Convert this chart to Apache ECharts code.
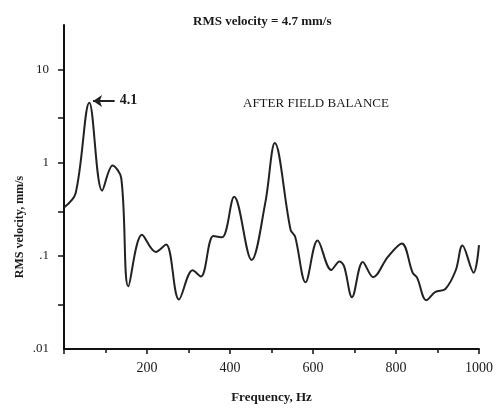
<!DOCTYPE html>
<html>
<head>
<meta charset="utf-8">
<script src="https://cdn.jsdelivr.net/npm/echarts@6/dist/echarts.min.js"></script>
<style>html,body{margin:0;padding:0;background:#fff}#c{width:496px;height:409px}</style>
</head>
<body>
<div id="c"></div>
<script>
// Frequency (Hz) and RMS velocity (mm/s)
var freqHz = [0, 28, 61, 92, 117, 138, 155, 188, 221, 246, 277, 310, 330, 360, 381, 410, 452, 485, 508, 546, 557, 582, 611, 644, 664, 675, 694, 720, 745, 780, 814, 840, 851, 873, 895, 919, 944, 960, 987, 1000];
var velocity = [0.33, 0.47, 4.4, 0.50, 0.93, 0.68, 0.047, 0.168, 0.11, 0.132, 0.034, 0.070, 0.060, 0.163, 0.158, 0.43, 0.09, 0.37, 1.62, 0.19, 0.16, 0.052, 0.146, 0.0705, 0.087, 0.077, 0.036, 0.086, 0.059, 0.097, 0.136, 0.066, 0.058, 0.0334, 0.041, 0.044, 0.070, 0.129, 0.066, 0.13];
var xTickLabels = [200, 400, 600, 800, 1000];
var yTickLabels = [0.01, 0.1, 1, 10];
var yTickMarks = [0.03, 0.1, 0.3, 1, 3, 10];
var yLabelText = {'-2': '.01', '-1': '.1', '0': '1', '1': '10'};

var serif = 'Liberation Serif';
var pts = freqHz.map(function (f, i) { return [f, velocity[i]]; });
var chart = echarts.init(document.getElementById('c'), null, {renderer: 'canvas'});
chart.setOption({
  animation: false,
  backgroundColor: '#ffffff',
  title: [
    {text: 'RMS velocity = 4.7 mm/s', left: 188, top: 10,
     textStyle: {fontFamily: serif, fontSize: 13, fontWeight: 'bold', color: '#1a1a1a'}},
    {text: 'AFTER FIELD BALANCE', left: 238, top: 92,
     textStyle: {fontFamily: serif, fontSize: 13, fontWeight: 'normal', color: '#1a1a1a'}}
  ],
  graphic: [{
    type: 'text', x: 20, y: 227, rotation: Math.PI / 2,
    style: {text: 'RMS velocity, mm/s', fontFamily: serif, fontSize: 12, fontWeight: 'bold',
            fill: '#1a1a1a', align: 'center', verticalAlign: 'middle'}
  }],
  grid: {left: 64, right: 7, top: 25, bottom: 60},
  xAxis: {
    type: 'value', min: 0, max: 1000, interval: 200,
    name: 'Frequency, Hz', nameLocation: 'middle', nameGap: 42,
    nameTextStyle: {fontFamily: serif, fontSize: 13, fontWeight: 'bold', color: '#1a1a1a'},
    axisLine: {show: true, lineStyle: {color: '#111', width: 2}},
    axisTick: {show: true, length: 5, lineStyle: {color: '#111', width: 1.5}},
    minorTick: {show: true, splitNumber: 2, length: 4, lineStyle: {color: '#111', width: 1.5}},
    splitLine: {show: false},
    axisLabel: {
      margin: 12, fontFamily: serif, fontSize: 14, color: '#1a1a1a',
      formatter: function (v) { return xTickLabels.indexOf(v) >= 0 ? String(v) : ''; }
    }
  },
  yAxis: {
    type: 'log', logBase: 10, min: 0.01, max: 30,
    axisLine: {show: true, lineStyle: {color: '#111', width: 2}},
    axisTick: {show: true, length: 6, customValues: yTickMarks, lineStyle: {color: '#111', width: 1.5}},
    splitLine: {show: false},
    minorTick: {show: false},
    axisLabel: {
      margin: 15, fontFamily: serif, fontSize: 13, color: '#1a1a1a',
      customValues: yTickLabels,
      formatter: function (v) { var k = Math.round(Math.log10(v)); return yLabelText[String(k)] || ''; }
    }
  },
  series: [{
    type: 'line', data: pts, smooth: 0.35, showSymbol: false,
    lineStyle: {color: '#222', width: 2},
    markLine: {
      silent: true, symbol: ['none', 'arrow'], symbolSize: 9,
      lineStyle: {color: '#222', width: 2, type: 'solid'},
      label: {show: true, position: 'start', formatter: '4.1', distance: 5,
              fontFamily: serif, fontSize: 14, fontWeight: 'bold', color: '#1a1a1a'},
      data: [[{coord: [122, 4.6]}, {coord: [70, 4.6]}]]
    }
  }]
});
</script>
</body>
</html>
